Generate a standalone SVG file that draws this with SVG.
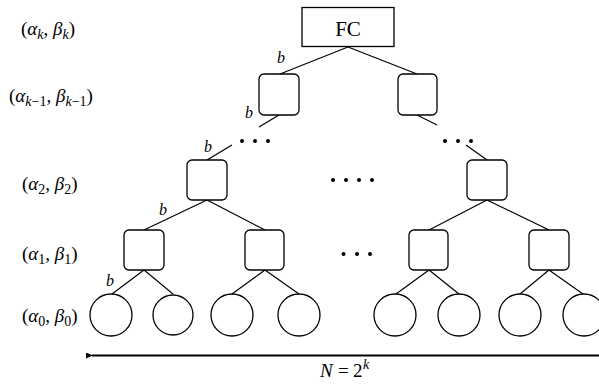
<svg xmlns="http://www.w3.org/2000/svg" width="599" height="385" viewBox="0 0 599 385">
  <style>
    .box { fill: #fff; stroke: #000; stroke-width: 1.3; }
    .leaf { fill: #fff; stroke: #000; stroke-width: 1.3; }
    .edge { stroke: #000; stroke-width: 1.2; fill: none; }
    .dot { fill: #000; }
    .lbl { font-family: "Liberation Serif", serif; font-size: 19px; fill: #000; }
    .sub { font-size: 14px; }
    .it { font-style: italic; }
    .b { font-family: "Liberation Serif", serif; font-style: italic; font-size: 16px; fill: #000; }
  </style>
  <defs>
    <marker id="arrowhead" markerWidth="7" markerHeight="6" refX="1" refY="3" orient="auto" markerUnits="userSpaceOnUse">
      <path d="M7,0 L0,3 L7,6 z" fill="#000"/>
    </marker>
  </defs>

  <!-- level labels -->
  <g id="level-labels">
    <text class="lbl" x="21" y="35">(<tspan class="it">α</tspan><tspan class="it sub" dy="4">k</tspan><tspan dy="-4">, </tspan><tspan class="it">β</tspan><tspan class="it sub" dy="4">k</tspan><tspan dy="-4">)</tspan></text>
    <text class="lbl" x="9" y="102">(<tspan class="it">α</tspan><tspan class="sub" dy="4"><tspan class="it">k</tspan>−1</tspan><tspan dy="-4">, </tspan><tspan class="it">β</tspan><tspan class="sub" dy="4"><tspan class="it">k</tspan>−1</tspan><tspan dy="-4">)</tspan></text>
    <text class="lbl" x="22" y="190">(<tspan class="it">α</tspan><tspan class="sub" dy="4">2</tspan><tspan dy="-4">, </tspan><tspan class="it">β</tspan><tspan class="sub" dy="4">2</tspan><tspan dy="-4">)</tspan></text>
    <text class="lbl" x="22" y="260">(<tspan class="it">α</tspan><tspan class="sub" dy="4">1</tspan><tspan dy="-4">, </tspan><tspan class="it">β</tspan><tspan class="sub" dy="4">1</tspan><tspan dy="-4">)</tspan></text>
    <text class="lbl" x="22" y="322">(<tspan class="it">α</tspan><tspan class="sub" dy="4">0</tspan><tspan dy="-4">, </tspan><tspan class="it">β</tspan><tspan class="sub" dy="4">0</tspan><tspan dy="-4">)</tspan></text>
  </g>

  <!-- connectors -->
  <g id="connectors">
    <line class="edge" x1="348" y1="47" x2="280" y2="74"/>
    <line class="edge" x1="348" y1="47" x2="417" y2="74"/>
    <line class="edge" x1="279" y1="115" x2="259" y2="127"/>
    <line class="edge" x1="417" y1="115" x2="437" y2="125"/>
    <line class="edge" x1="232" y1="145" x2="207" y2="160"/>
    <line class="edge" x1="466" y1="145" x2="487" y2="160"/>
    <line class="edge" x1="207" y1="200" x2="144" y2="230"/>
    <line class="edge" x1="207" y1="200" x2="265" y2="230"/>
    <line class="edge" x1="487" y1="200" x2="429" y2="230"/>
    <line class="edge" x1="487" y1="200" x2="549" y2="230"/>
    <line class="edge" x1="144" y1="270" x2="112" y2="294"/>
    <line class="edge" x1="144" y1="270" x2="173" y2="294"/>
    <line class="edge" x1="265" y1="270" x2="232" y2="294"/>
    <line class="edge" x1="265" y1="270" x2="299" y2="294"/>
    <line class="edge" x1="429" y1="270" x2="396" y2="294"/>
    <line class="edge" x1="429" y1="270" x2="459" y2="294"/>
    <line class="edge" x1="549" y1="270" x2="520" y2="294"/>
    <line class="edge" x1="549" y1="270" x2="583" y2="294"/>
  </g>

  <!-- edge labels -->
  <g id="edge-labels">
    <text class="b" x="277" y="63">b</text>
    <text class="b" x="245" y="118">b</text>
    <text class="b" x="204" y="152">b</text>
    <text class="b" x="159" y="215">b</text>
    <text class="b" x="106" y="286">b</text>
  </g>

  <!-- root -->
  <g id="fc">
    <rect x="302" y="7.5" width="92" height="39" fill="#fff" stroke="#000" stroke-width="1.3"/>
    <text x="348" y="36" text-anchor="middle" font-family="Liberation Serif, serif" font-size="21">FC</text>
  </g>

  <!-- level k-1 -->
  <g id="node-k1-left"><rect class="box" x="259" y="74" width="40" height="41" rx="5"/></g>
  <g id="node-k1-right"><rect class="box" x="398" y="74" width="39" height="41" rx="5"/></g>

  <!-- ellipses between levels -->
  <g id="dots">
    <circle class="dot" cx="242" cy="141" r="2"/>
    <circle class="dot" cx="255" cy="141" r="2"/>
    <circle class="dot" cx="268" cy="141" r="2"/>
    <circle class="dot" cx="445" cy="141" r="2"/>
    <circle class="dot" cx="458" cy="141" r="2"/>
    <circle class="dot" cx="471" cy="141" r="2"/>
    <circle class="dot" cx="333" cy="180" r="2"/>
    <circle class="dot" cx="346" cy="180" r="2"/>
    <circle class="dot" cx="359" cy="180" r="2"/>
    <circle class="dot" cx="372" cy="180" r="2"/>
    <circle class="dot" cx="343.5" cy="254" r="2"/>
    <circle class="dot" cx="357" cy="254" r="2"/>
    <circle class="dot" cx="370" cy="254" r="2"/>
  </g>

  <!-- level 2 -->
  <g id="node-2-left"><rect class="box" x="187" y="160" width="40" height="40" rx="5"/></g>
  <g id="node-2-right"><rect class="box" x="467" y="160" width="40" height="40" rx="5"/></g>

  <!-- level 1 -->
  <g id="node-1-a"><rect class="box" x="124" y="230" width="40" height="40" rx="5"/></g>
  <g id="node-1-b"><rect class="box" x="245" y="230" width="39" height="40" rx="5"/></g>
  <g id="node-1-c"><rect class="box" x="409" y="230" width="39" height="40" rx="5"/></g>
  <g id="node-1-d"><rect class="box" x="529" y="230" width="40" height="40" rx="5"/></g>

  <!-- level 0 leaves -->
  <g id="leaf-1"><circle class="leaf" cx="111" cy="315" r="21"/></g>
  <g id="leaf-2"><circle class="leaf" cx="173" cy="315" r="20"/></g>
  <g id="leaf-3"><circle class="leaf" cx="232" cy="315" r="21"/></g>
  <g id="leaf-4"><circle class="leaf" cx="299" cy="315" r="21"/></g>
  <g id="leaf-5"><circle class="leaf" cx="395" cy="315" r="21"/></g>
  <g id="leaf-6"><circle class="leaf" cx="459" cy="315" r="21"/></g>
  <g id="leaf-7"><circle class="leaf" cx="520" cy="315" r="21"/></g>
  <g id="leaf-8"><circle class="leaf" cx="584" cy="315" r="21"/></g>

  <!-- width arrow -->
  <g id="width">
    <line x1="600" y1="355.5" x2="92" y2="355.5" stroke="#000" stroke-width="2" marker-end="url(#arrowhead)"/>
    <text class="lbl" y="377"><tspan class="it" x="320">N</tspan><tspan x="338">=</tspan><tspan x="353">2</tspan><tspan class="it sub" x="363" dy="-8">k</tspan></text>
  </g>
</svg>
